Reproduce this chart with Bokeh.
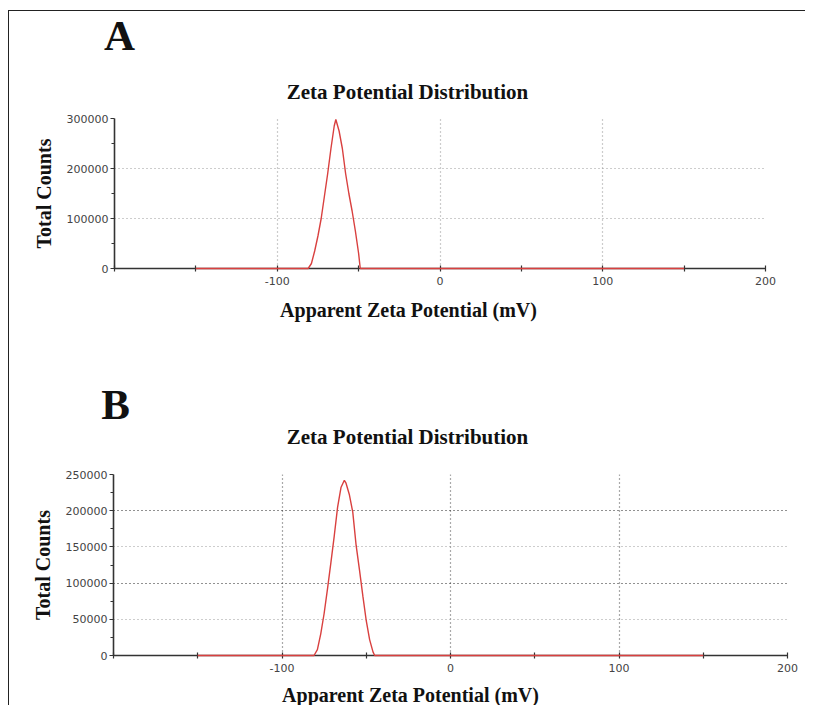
from bokeh.plotting import figure
from bokeh.layouts import column
from bokeh.models import (Range1d, FixedTicker, NumeralTickFormatter, Label, Grid)
from bokeh.embed import file_html
from bokeh.resources import INLINE

# ---------------- data ----------------
panel_letters = ["A", "B"]
chart_title = "Zeta Potential Distribution"
x_label = "Apparent Zeta Potential (mV)"
y_label = "Total Counts"

x_tick_labels = [-100, 0, 100, 200]
x_minor_ticks = [-200, -150, -50, 50, 150]

# Panel A
zeta_a = [-150, -81, -79, -77, -75, -73, -71, -69, -67, -65, -64,
          -62, -60, -58, -56, -54, -52, -50, -49, 150]
counts_a = [0, 0, 10000, 35000, 65000, 100000, 145000, 190000, 240000, 285000, 298000,
            275000, 240000, 190000, 150000, 115000, 75000, 30000, 0, 0]
y_ticks_a = [0, 100000, 200000, 300000]
y_minor_a = [50000, 150000, 250000]

# Panel B
zeta_b = [-150, -81, -79, -77, -75, -73, -71, -69, -67, -65, -63,
          -62, -60, -58, -56, -54, -52, -50, -48, -46, -45, 150]
counts_b = [0, 0, 8000, 30000, 58000, 92000, 128000, 165000, 205000, 232000, 242000,
            238000, 222000, 198000, 152000, 118000, 82000, 48000, 22000, 5000, 0, 0]
y_ticks_b = [0, 50000, 100000, 150000, 200000, 250000]
y_minor_b = [25000, 75000, 125000, 175000, 225000]
y_dark_grid_b = [100000, 200000]
y_light_grid_b = [50000, 150000, 250000]

SERIF = "Liberation Serif"
TICKFONT = "DejaVu Sans"
RED = "#d9403f"
AXIS = "#333333"
INK = "#111111"
W = 796


def make_strip(height, texts):
    """A blank strip (pixel-sized ranges) holding free text: letters, titles, x labels."""
    h = figure(width=W, height=height, output_backend="svg", toolbar_location=None,
               x_range=Range1d(0, W), y_range=Range1d(0, height),
               x_axis_location=None, y_axis_location=None,
               min_border=0, min_border_left=0, min_border_right=0,
               min_border_top=0, min_border_bottom=0)
    h.frame_align = False
    h.title.visible = False
    h.outline_line_color = None
    h.grid.visible = False
    h.background_fill_color = "white"
    h.border_fill_color = "white"
    for (tx, ty, txt, size) in texts:
        h.add_layout(Label(x=tx, y=ty, text=txt, text_font=SERIF, text_font_style="bold",
                           text_font_size=size, text_align="center",
                           text_baseline="alphabetic", text_color=INK))
    return h


def make_panel(height, borders, xs, ys, y_max, y_ticks, y_minor, grid_specs, xgrid_color):
    left, right, top, bottom = borders
    p = figure(width=W, height=height, output_backend="svg", toolbar_location=None,
               x_range=Range1d(-200, 200), y_range=Range1d(0, y_max),
               min_border_left=left, min_border_right=right,
               min_border_top=top, min_border_bottom=bottom)
    p.frame_align = False
    p.title.visible = False
    p.outline_line_color = None
    p.background_fill_color = "white"
    p.border_fill_color = "white"

    # axes
    p.xaxis.ticker = FixedTicker(ticks=x_tick_labels, minor_ticks=x_minor_ticks)
    p.yaxis.ticker = FixedTicker(ticks=y_ticks, minor_ticks=y_minor)
    p.xaxis.formatter = NumeralTickFormatter(format="0")
    p.yaxis.formatter = NumeralTickFormatter(format="0")
    for ax in (p.xaxis, p.yaxis):
        ax.axis_line_color = AXIS
        ax.axis_line_width = 1.6
        ax.major_tick_line_color = AXIS
        ax.minor_tick_line_color = AXIS
        ax.major_tick_line_width = 1.2
        ax.minor_tick_line_width = 1.2
        ax.major_label_text_font = TICKFONT
        ax.major_label_text_font_size = "11px"
        ax.major_label_text_color = "#444444"
    p.xaxis.major_tick_in = 3
    p.xaxis.major_tick_out = 3
    p.xaxis.minor_tick_in = 3
    p.xaxis.minor_tick_out = 3
    p.yaxis.major_tick_in = 0
    p.yaxis.major_tick_out = 4
    p.yaxis.minor_tick_in = 0
    p.yaxis.minor_tick_out = 3
    p.yaxis.major_label_standoff = 2
    p.xaxis.major_label_standoff = 5
    p.yaxis.axis_label = y_label
    p.yaxis.axis_label_text_font = SERIF
    p.yaxis.axis_label_text_font_style = "bold"
    p.yaxis.axis_label_text_color = INK
    p.yaxis.axis_label_text_font_size = "20px"
    p.yaxis.axis_label_standoff = 9

    # grids
    p.xgrid.ticker = FixedTicker(ticks=x_tick_labels)
    p.xgrid.grid_line_color = xgrid_color
    p.xgrid.grid_line_dash = "1 3"
    p.xgrid.grid_line_width = 1.2
    p.ygrid.visible = False
    for ticks, color in grid_specs:
        g = Grid(dimension=1, ticker=FixedTicker(ticks=ticks),
                 grid_line_color=color, grid_line_dash="1 3", grid_line_width=1.2)
        p.add_layout(g)

    r = p.line(xs, ys, line_color=RED, line_width=1.4)
    r.level = "overlay"
    return p


strip1 = make_strip(100, [(110, 76, panel_letters[0], "43px"),
                          (398, 20, chart_title, "21px")])
pa = make_panel(179, (105, 40, 7, 22), zeta_a, counts_a, 300000, y_ticks_a, y_minor_a,
                [(y_ticks_a[1:], "#9a9a9a")], "#9a9a9a")
strip2 = make_strip(176, [(399, 157, x_label, "20px"),
                          (106, 62, panel_letters[1], "43px"),
                          (398, 30, chart_title, "21px")])
pb = make_panel(210, (104, 18, 8, 21), zeta_b, counts_b, 250000, y_ticks_b, y_minor_b,
                [(y_light_grid_b, "#9a9a9a"), (y_dark_grid_b, "#222222")], "#555555")
strip3 = make_strip(29, [(401, 11, x_label, "20px")])

layout = column(strip1, pa, strip2, pb, strip3, spacing=0,
                styles={"border-left": "1px solid #222", "border-top": "1px solid #222",
                        "margin-left": "8px", "margin-top": "10px"})

open("out.html", "w").write(file_html(layout, INLINE))
